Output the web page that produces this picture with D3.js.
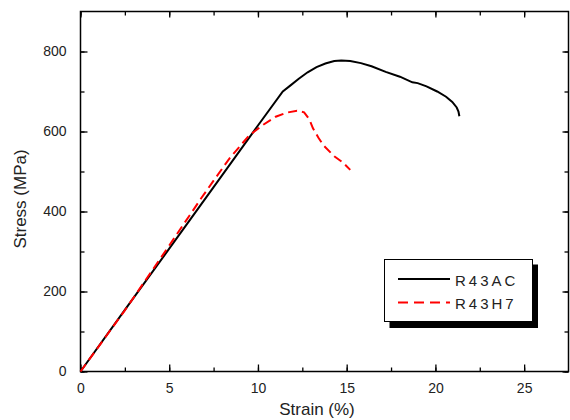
<!DOCTYPE html>
<html>
<head>
<meta charset="utf-8">
<script src="https://cdn.jsdelivr.net/npm/d3@7"></script>
<style>
    body { margin: 0; background: #fff; }
    svg { display: block; font-family: "Liberation Sans", Arial, sans-serif; }
</style>
</head>
<body>
<svg id="chart" width="570" height="420"></svg>
<script>
// R43AC (solid black)
var acStrain = [0, 2.5, 5, 7.5, 10, 11.4, 11.8, 12.3, 12.8, 13.3, 13.8, 14.3, 14.7, 15.2, 15.8, 16.4, 17.2, 18.0, 18.7, 19.0, 19.5, 20.1, 20.6, 20.95, 21.2, 21.3, 21.35]
var acStress = [0, 154, 307, 461, 615, 700, 714, 732, 748, 761, 770, 776, 777.5, 776, 771, 763, 749, 737, 723, 721, 713, 700, 687, 674, 660, 650, 638]

// R43H7 (dashed red)
var h7Strain = [0, 2.5, 4, 5, 6.8, 7.5, 8.4, 9.5, 10.3, 11.0, 11.6, 12.2, 12.6, 12.9, 13.1, 13.4, 13.7, 14.3, 14.8, 15.2]
var h7Stress = [0, 153, 250, 315, 433, 477, 533, 590, 617, 637, 647, 652, 648, 630, 608, 585, 565, 538, 522, 504]

var seriesNames = ["R43AC", "R43H7"]
var xMajor = [0, 5, 10, 15, 20, 25]
var yMajor = [0, 200, 400, 600, 800]

var svg = d3.select("#chart")
var plotL = 80.5, plotT = 11.5, plotR = 568.5, plotB = 371.5

var x = d3.scaleLinear().domain([0, 27.5]).range([plotL, plotR])
var y = d3.scaleLinear().domain([0, 900]).range([plotB, plotT])

var xMinor = d3.range(0, 27.5, 2.5)
var yMinor = d3.range(0, 900, 100)

function noDomain(g) { g.select(".domain").remove() }

// minor ticks, all four sides
svg.append("g").attr("transform", "translate(0," + plotB + ")")
    .call(d3.axisBottom(x).tickValues(xMinor).tickSize(-4).tickFormat("")).call(noDomain)
svg.append("g").attr("transform", "translate(0," + plotT + ")")
    .call(d3.axisTop(x).tickValues(xMinor).tickSize(-4).tickFormat("")).call(noDomain)
svg.append("g").attr("transform", "translate(" + plotL + ",0)")
    .call(d3.axisLeft(y).tickValues(yMinor).tickSize(-4).tickFormat("")).call(noDomain)
svg.append("g").attr("transform", "translate(" + plotR + ",0)")
    .call(d3.axisRight(y).tickValues(yMinor).tickSize(-4).tickFormat("")).call(noDomain)

// major ticks
svg.append("g").attr("transform", "translate(0," + plotB + ")")
    .call(d3.axisBottom(x).tickValues(xMajor).tickSize(-7).tickPadding(11.5)).call(noDomain)
svg.append("g").attr("transform", "translate(0," + plotT + ")")
    .call(d3.axisTop(x).tickValues(xMajor).tickSize(-6).tickFormat("")).call(noDomain)
svg.append("g").attr("transform", "translate(" + plotL + ",0)")
    .call(d3.axisLeft(y).tickValues(yMajor).tickSize(-7).tickPadding(14)).call(noDomain)
svg.append("g").attr("transform", "translate(" + plotR + ",0)")
    .call(d3.axisRight(y).tickValues(yMajor).tickSize(-6).tickFormat("")).call(noDomain)

svg.selectAll(".tick line").attr("stroke", "#000").attr("stroke-width", 1.3)
svg.selectAll(".tick text")
    .attr("fill", "#222")
    .style("font-size", "14px")
    .style("font-family", "'Liberation Sans', Arial, sans-serif")

// frame
svg.append("rect")
    .attr("x", plotL).attr("y", plotT)
    .attr("width", plotR - plotL).attr("height", plotB - plotT)
    .attr("fill", "none").attr("stroke", "#000").attr("stroke-width", 1.5)

// curves
var line = d3.line()
    .x(function(d){ return x(d[0]) })
    .y(function(d){ return y(d[1]) })

svg.append("path")
    .datum(d3.zip(acStrain, acStress))
    .attr("d", line)
    .attr("fill", "none").attr("stroke", "#000").attr("stroke-width", 2)

svg.append("path")
    .datum(d3.zip(h7Strain, h7Stress))
    .attr("d", line)
    .attr("fill", "none").attr("stroke", "#f00").attr("stroke-width", 2)
    .attr("stroke-dasharray", "9,5")

// axis titles
svg.append("text")
    .attr("x", 317).attr("y", 415)
    .attr("text-anchor", "middle")
    .style("font-size", "17px").attr("fill", "#222")
    .text("Strain (%)")

svg.append("text")
    .attr("transform", "translate(26,199) rotate(-90)")
    .attr("text-anchor", "middle")
    .style("font-size", "17px").attr("fill", "#222")
    .text("Stress (MPa)")

// legend
var lg = svg.append("g")
lg.append("rect")
    .attr("x", 389.5).attr("y", 264.5).attr("width", 148.5).attr("height", 63.5)
    .attr("fill", "#000")
lg.append("rect")
    .attr("x", 384.5).attr("y", 259.5).attr("width", 148).attr("height", 62)
    .attr("fill", "#fff").attr("stroke", "#000").attr("stroke-width", 1)

var styles = [{ color: "#000", dash: null }, { color: "#f00", dash: "10,6" }]
seriesNames.forEach(function(name, i){
    var ly = 279 + i * 23.5
    lg.append("line")
        .attr("x1", 398).attr("x2", 450).attr("y1", ly).attr("y2", ly)
        .attr("stroke", styles[i].color).attr("stroke-width", 2)
        .attr("stroke-dasharray", styles[i].dash)
    lg.append("text")
        .attr("x", 455).attr("y", ly + 6.5)
        .style("font-size", "15px").style("letter-spacing", "3px")
        .attr("fill", "#222")
        .text(name)
})
</script>
</body>
</html>
